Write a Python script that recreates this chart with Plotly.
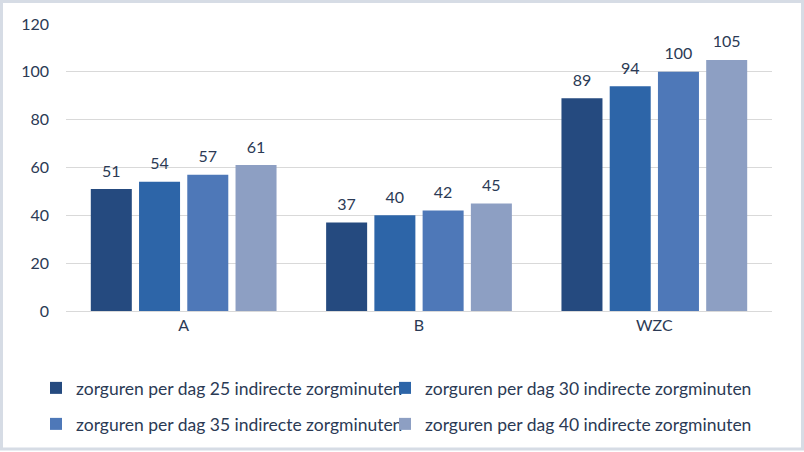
import plotly.graph_objects as go

categories = ["A", "B", "WZC"]
series_names = [
    "zorguren per dag 25 indirecte zorgminuten",
    "zorguren per dag 30 indirecte zorgminuten",
    "zorguren per dag 35 indirecte zorgminuten",
    "zorguren per dag 40 indirecte zorgminuten",
]
values_25 = [51, 37, 89]
values_30 = [54, 40, 94]
values_35 = [57, 42, 100]
values_40 = [61, 45, 105]
colors = ["#254A7F", "#2D65A8", "#4E78B8", "#8D9FC3"]
y_ticks = [0, 20, 40, 60, 80, 100, 120]

text_color = "#2B3A55"
font_family = "Lato, 'Open Sans', sans-serif"

fig = go.Figure()
legend_ids = ["legend", "legend2", "legend3", "legend4"]
all_vals = [values_25, values_30, values_35, values_40]
for i, (name, vals, col, lg) in enumerate(zip(series_names, all_vals, colors, legend_ids)):
    fig.add_trace(go.Bar(
        x=categories, y=vals, name=name, legend=lg,
        offsetgroup=str(i), alignmentgroup="g",
        marker=dict(color=col, line=dict(width=0)),
    ))
    fig.add_trace(go.Scatter(
        x=categories, y=vals, mode="markers+text", showlegend=False,
        offsetgroup=str(i), alignmentgroup="g",
        text=[str(v) for v in vals], textposition="top center",
        marker=dict(size=12, color="rgba(0,0,0,0)"),
        textfont=dict(size=16, color=text_color, family=font_family),
        cliponaxis=False, hoverinfo="skip",
    ))

top, bottom, left, right = 24, 140, 66, 32
pw, ph = 804 - left - right, 452 - top - bottom
y0px = 452 - bottom
leg_common = dict(
    orientation="h", xanchor="left", yanchor="middle",
    font=dict(size=17.5, color=text_color, family=font_family),
    itemwidth=30, bgcolor="rgba(0,0,0,0)",
)
col_x = [(36 - left) / pw, (385 - left) / pw]
row_y = [(y0px - 388) / ph, (y0px - 424) / ph]
fig.update_layout(
    width=804, height=452,
    paper_bgcolor="white", plot_bgcolor="white",
    margin=dict(l=left, r=right, t=top, b=bottom),
    barmode="group", bargap=0.18, bargroupgap=0.15,
    scattermode="group", scattergap=0.18,
    font=dict(family=font_family, size=16, color=text_color),
    showlegend=True,
    legend=dict(x=col_x[0], y=row_y[0], **leg_common),
    legend2=dict(x=col_x[1], y=row_y[0], **leg_common),
    legend3=dict(x=col_x[0], y=row_y[1], **leg_common),
    legend4=dict(x=col_x[1], y=row_y[1], **leg_common),
)
fig.update_xaxes(showgrid=False, showline=True, linecolor="#D9D9D9", linewidth=1,
                 ticks="", tickfont=dict(size=16, color=text_color))
fig.update_yaxes(range=[0, 120], tickvals=y_ticks, showgrid=True, gridcolor="#D9D9D9",
                 gridwidth=1, zeroline=False, showline=False, ticks="",
                 tickfont=dict(size=16, color=text_color), ticklabelstandoff=16)

# light blue chart border around the whole figure
fig.add_shape(type="rect", xref="paper", yref="paper",
              x0=(1.5 - left) / pw, x1=(802.5 - left) / pw,
              y0=(y0px - 450.5) / ph, y1=(y0px - 1.5) / ph,
              line=dict(width=3, color="#D6DCE5"), layer="above")

fig.write_html("out.html", config={"displayModeBar": False})
with open("out.html", "r", encoding="utf-8") as f:
    content = f.read()
content = content.replace("<body>", "<body style=\"margin:0\">", 1)
with open("out.html", "w", encoding="utf-8") as f:
    f.write(content)
